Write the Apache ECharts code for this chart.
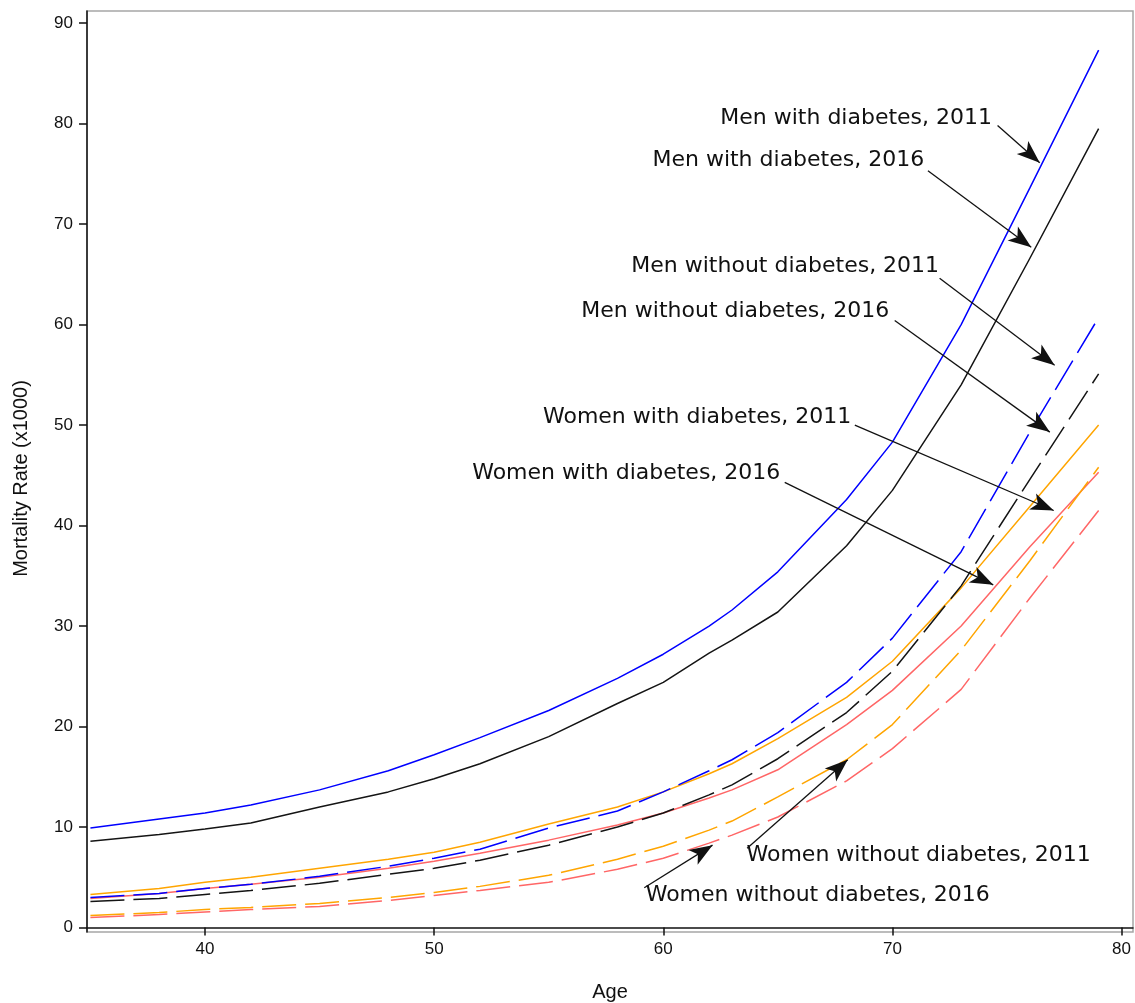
<!DOCTYPE html>
<html>
<head>
<meta charset="utf-8">
<script src="https://cdn.jsdelivr.net/npm/echarts@6/dist/echarts.min.js"></script>
<style>
  html, body { margin: 0; padding: 0; background: #fff; }
  #chart { width: 1135px; height: 1003px; }
</style>
</head>
<body>
<div id="chart"></div>
<script>
// Age at which each mortality rate is given
const ages = [35, 38, 40, 42, 45, 48, 50, 52, 55, 58, 60, 62, 63, 65, 68, 70, 73, 76, 79];

// Mortality rate (x1000) by age
const menDiab2011     = [9.9, 10.8, 11.4, 12.2, 13.7, 15.6, 17.2, 18.9, 21.6, 24.8, 27.2, 30.0, 31.6, 35.4, 42.6, 48.3, 60.0, 73.6, 87.3];
const menDiab2016     = [8.6, 9.25, 9.8, 10.4, 12.0, 13.5, 14.8, 16.3, 19.0, 22.3, 24.4, 27.3, 28.6, 31.4, 38.0, 43.5, 54.0, 66.6, 79.5];
const menNoDiab2011   = [3.0, 3.4, 3.9, 4.3, 5.1, 6.1, 6.9, 7.8, 9.9, 11.6, 13.5, 15.6, 16.7, 19.4, 24.4, 28.8, 37.4, 49.3, 60.7];
const menNoDiab2016   = [2.6, 2.9, 3.3, 3.7, 4.4, 5.3, 5.9, 6.7, 8.2, 10.0, 11.4, 13.2, 14.2, 16.8, 21.4, 25.5, 34.0, 44.6, 55.1];
const womenDiab2011   = [3.3, 3.9, 4.5, 5.0, 5.9, 6.8, 7.5, 8.5, 10.3, 12.0, 13.5, 15.3, 16.3, 18.8, 22.9, 26.5, 33.8, 41.9, 50.0];
const womenDiab2016   = [2.9, 3.4, 3.9, 4.3, 5.0, 5.9, 6.6, 7.4, 8.7, 10.2, 11.4, 12.9, 13.7, 15.7, 20.2, 23.6, 30.0, 37.9, 45.3];
const womenNoDiab2011 = [1.2, 1.5, 1.8, 2.0, 2.4, 3.0, 3.5, 4.1, 5.2, 6.8, 8.1, 9.7, 10.6, 13.0, 16.7, 20.2, 27.6, 36.5, 45.8];
const womenNoDiab2016 = [1.0, 1.3, 1.55, 1.8, 2.1, 2.7, 3.2, 3.7, 4.5, 5.8, 6.9, 8.4, 9.2, 11.0, 14.6, 17.8, 23.7, 32.8, 41.5];

// Axis ticks
const xTicks = [40, 50, 60, 70, 80];
const yTicks = [0, 10, 20, 30, 40, 50, 60, 70, 80, 90];

// Curve labels and their arrows, in (age, rate) units
const noteTexts = [
  'Men with diabetes, 2011',
  'Men with diabetes, 2016',
  'Men without diabetes, 2011',
  'Men without diabetes, 2016',
  'Women with diabetes, 2011',
  'Women with diabetes, 2016',
  'Women without diabetes, 2011',
  'Women without diabetes, 2016'
];
const noteAt = [[74.37, 80.5], [71.41, 76.3], [72.06, 65.8], [69.88, 61.3], [68.22, 50.8], [65.13, 45.2], [63.61, 7.2], [59.21, 3.2]];
const noteSide = ['left', 'left', 'left', 'left', 'left', 'left', 'right', 'right'];
const arrowFrom = [[74.59, 79.8], [71.55, 75.3], [72.06, 64.6], [70.1, 60.4], [68.36, 50.0], [65.3, 44.3], [63.66, 7.9], [59.17, 3.96]];
const arrowTo = [[76.43, 76.1], [76.06, 67.7], [77.08, 55.95], [76.87, 49.3], [77.04, 41.5], [74.4, 34.1], [68.05, 16.7], [62.15, 8.2]];

const BLUE = '#0000ff', BLACK = '#141414', ORANGE = '#ffa500', PINK = '#ff6666';
const DASH = [34, 9];

function curve(name, values, color, dashed) {
  return {
    name: name,
    type: 'line',
    data: ages.map((a, i) => [a, values[i]]),
    showSymbol: false,
    symbol: 'none',
    smooth: false,
    silent: true,
    lineStyle: { color: color, width: 1.5, type: dashed ? DASH : 'solid' },
    z: 2
  };
}

const chart = echarts.init(document.getElementById('chart'), null, { renderer: 'canvas' });

chart.setOption({
  animation: false,
  backgroundColor: '#ffffff',
  grid: {
    left: 87, right: 2, top: 11, bottom: 71,
    outerBoundsMode: 'none',
    containLabel: false,
    show: true, borderColor: '#a6a6a6', borderWidth: 1.5, backgroundColor: 'transparent'
  },
  xAxis: {
    type: 'value',
    min: 34.85, max: 80.5,
    name: 'Age',
    nameLocation: 'middle',
    nameGap: 50,
    nameTextStyle: { fontFamily: 'Liberation Sans', fontSize: 20, color: '#111' },
    axisLine: { show: true, lineStyle: { color: '#111', width: 1.5 } },
    axisTick: { show: true, inside: false, length: 8, customValues: xTicks, lineStyle: { color: '#111', width: 1.5 } },
    axisLabel: { customValues: xTicks, margin: 9, fontFamily: 'Liberation Sans', fontSize: 17, color: '#111' },
    splitLine: { show: false }
  },
  yAxis: {
    type: 'value',
    min: -0.44, max: 91.2,
    name: 'Mortality Rate (x1000)',
    nameLocation: 'middle',
    nameGap: 56,
    nameRotate: 90,
    nameTextStyle: { fontFamily: 'Liberation Sans', fontSize: 20, color: '#111', padding: [0, 14, 0, 0] },
    axisLine: { show: true, lineStyle: { color: '#111', width: 1.5 } },
    axisTick: { show: true, inside: false, length: 8, customValues: yTicks, lineStyle: { color: '#111', width: 1.5 } },
    axisLabel: { customValues: yTicks, margin: 14, fontFamily: 'Liberation Sans', fontSize: 17, color: '#111' },
    splitLine: { show: false }
  },
  series: [
    curve('Women without diabetes, 2016', womenNoDiab2016, PINK, true),
    curve('Women with diabetes, 2016', womenDiab2016, PINK, false),
    curve('Women without diabetes, 2011', womenNoDiab2011, ORANGE, true),
    curve('Women with diabetes, 2011', womenDiab2011, ORANGE, false),
    curve('Men without diabetes, 2016', menNoDiab2016, BLACK, true),
    curve('Men with diabetes, 2016', menDiab2016, BLACK, false),
    curve('Men without diabetes, 2011', menNoDiab2011, BLUE, true),
    curve('Men with diabetes, 2011', menDiab2011, BLUE, false),
    {
      name: 'notes',
      type: 'scatter',
      silent: true,
      symbol: 'circle',
      symbolSize: 1,
      itemStyle: { color: '#111', opacity: 0 },
      z: 5,
      data: noteTexts.map((t, i) => ({
        name: t,
        value: noteAt[i],
        label: {
          show: true,
          position: noteSide[i],
          distance: 0,
          formatter: t,
          fontFamily: 'DejaVu Sans',
          fontSize: 22,
          color: '#111',
          opacity: 1
        }
      })),
      markLine: {
        silent: true,
        symbol: ['none', 'arrow'],
        symbolSize: 18,
        label: { show: false },
        itemStyle: { color: '#111', opacity: 1 },
        lineStyle: { color: '#111', width: 1.3, type: 'solid', opacity: 1 },
        emphasis: { disabled: true },
        data: arrowFrom.map((p, i) => [
          { coord: p, symbol: 'none' },
          { coord: arrowTo[i], symbol: 'arrow', symbolSize: [13, 23] }
        ])
      }
    }
  ]
});
</script>
</body>
</html>
